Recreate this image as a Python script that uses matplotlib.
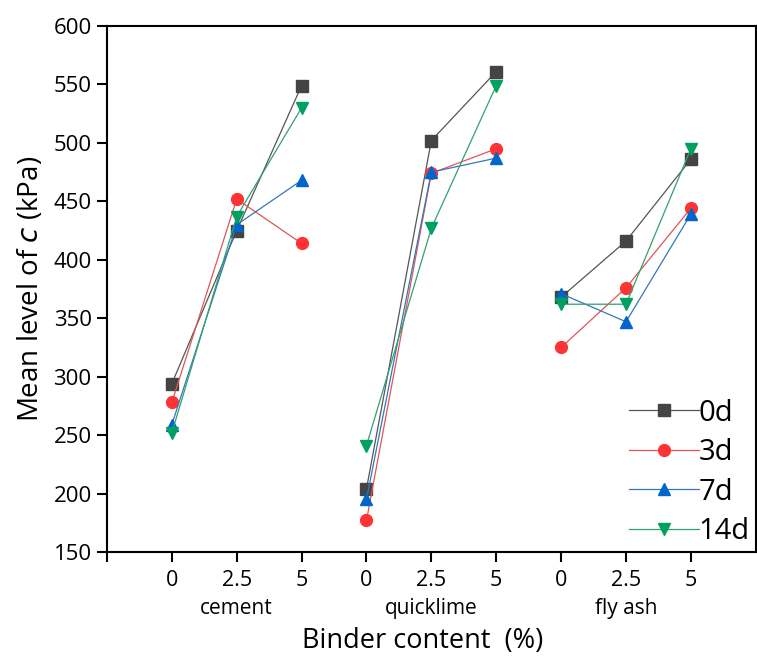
import matplotlib.pyplot as plt
import numpy as np

plt.rcParams['font.family'] = ['Open Sans', 'DejaVu Sans']

binders = ['cement', 'quicklime', 'fly ash']
contents = ['0', '2.5', '5']
series_names = ['0d', '3d', '7d', '14d']

# mean c (kPa), per binder: [0, 2.5, 5] %
c_0d = [[294, 425, 549], [204, 502, 561], [368, 416, 486]]
c_3d = [[278, 452, 414], [177, 474, 495], [325, 376, 444]]
c_7d = [[259, 430, 468], [195, 475, 487], [371, 347, 439]]
c_14d = [[252, 437, 530], [241, 427, 549], [362, 362, 495]]

colors = ['#444444', '#ff3333', '#0066cc', '#00a060']
line_colors = ['#555555', '#e05555', '#3377bb', '#33a070']
markers = ['s', 'o', '^', 'v']

fig = plt.figure(figsize=(7.57, 6.57), dpi=100)
ax = fig.add_axes([0.1413, 0.1598, 0.857, 0.8006])

for k, data in enumerate([c_0d, c_3d, c_7d, c_14d]):
    for g in range(len(binders)):
        xs = np.arange(3) + 3 * g
        ax.plot(xs, data[g], color=line_colors[k], lw=0.9,
                marker=markers[k], ms=8.5, mfc=colors[k], mec=colors[k],
                label=series_names[k] if g == 0 else None)

ax.set_xlim(-1, 9)
ax.set_ylim(150, 600)
ax.set_yticks(np.arange(150, 601, 50))
ax.set_xticks([-1] + list(range(9)))
ax.set_xticklabels([''] + contents * 3)
ax.tick_params(axis='both', direction='out', length=7, width=1.5, labelsize=16)
ax.tick_params(axis='x', labelsize=15.5, pad=6)
ax.tick_params(axis='y', pad=4)
for s in ax.spines.values():
    s.set_linewidth(1.5)

for g, name in enumerate(binders):
    ax.text(3 * g + 1, -0.108, name, transform=ax.get_xaxis_transform(),
            ha='center', va='center', fontsize=15)

ax.set_xlabel('Binder content  (%)', fontsize=19.5, va='center')
ax.xaxis.set_label_coords(0.487, -0.17)
ax.set_ylabel('Mean level of $c$ (kPa)', fontsize=20, va='center')
ax.yaxis.set_label_coords(-0.1186, 0.5)

ax.legend(loc='lower right', frameon=False, fontsize=21, handlelength=2.4,
          handletextpad=0.0, labelspacing=0.36, borderaxespad=0.1,
          borderpad=0.1)

fig.savefig('out.png', dpi=100)
